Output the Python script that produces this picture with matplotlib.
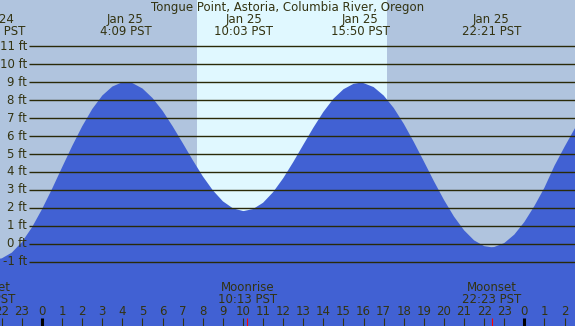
import matplotlib
matplotlib.use("Agg")
from matplotlib import pyplot as plt

# hours counted from midnight Jan 25 (PST), heights in feet
hours = [-2.5, -2.0, -1.5, -1.0, -0.5, 0.0, 0.5, 1.0, 1.5, 2.0,
         2.5, 3.0, 3.5, 4.0, 4.5, 5.0, 5.5, 6.0, 6.5, 7.0,
         7.5, 8.0, 8.5, 9.0, 9.5, 10.0, 10.5, 11.0, 11.5, 12.0,
         12.5, 13.0, 13.5, 14.0, 14.5, 15.0, 15.5, 16.0, 16.5, 17.0,
         17.5, 18.0, 18.5, 19.0, 19.5, 20.0, 20.5, 21.0, 21.5, 22.0,
         22.5, 23.0, 23.5, 24.0, 24.5, 25.0, 25.5, 26.0, 26.5, 27.0]
heights = [-0.82, -0.80, -0.48, 0.10, 0.92, 1.93, 3.06, 4.26, 5.44, 6.54,
           7.50, 8.25, 8.75, 8.99, 8.94, 8.64, 8.11, 7.40, 6.54, 5.61,
           4.66, 3.76, 2.98, 2.37, 1.98, 1.83, 1.94, 2.29, 2.88, 3.65,
           4.55, 5.51, 6.46, 7.34, 8.07, 8.60, 8.90, 8.94, 8.72, 8.25,
           7.56, 6.68, 5.67, 4.59, 3.49, 2.45, 1.52, 0.76, 0.20, -0.12,
           -0.17, 0.05, 0.52, 1.22, 2.11, 3.13, 4.35, 5.40, 6.40, 7.30]

# high / low tides
ext_hours = [-2.3, 4.15, 10.05, 15.83, 22.35]
ext_heights = [-0.85, 9.0, 1.83, 8.96, -0.18]
ext_days = ["Jan 24", "Jan 25", "Jan 25", "Jan 25", "Jan 25"]
ext_times = ["21:42 PST", "4:09 PST", "10:03 PST", "15:50 PST", "22:21 PST"]

# moon events
moon_hours = [-2.8, 10.22, 22.38]
moon_names = ["Moonset", "Moonrise", "Moonset"]
moon_times = ["21:12 PST", "10:13 PST", "22:23 PST"]

sunrise = 7.73
sunset = 17.16

grid_levels = list(range(-1, 12))

title = "Tongue Point, Astoria, Columbia River, Oregon"

night_col = "#b0c4de"
day_col = "#e0f8ff"
water_col = "#4161d3"
text_col = "#333311"
fs = 8.5

x0, x1 = -2.09, 26.52
y0, y1 = -4.56, 13.56

fig = plt.figure(figsize=(5.75, 3.26), dpi=100)
fig.patch.set_facecolor(night_col)
ax = fig.add_axes([0, 0, 1, 1])
ax.set_xlim(x0, x1)
ax.set_ylim(y0, y1)
ax.axis("off")

# daylight band
ax.axvspan(sunrise, sunset, color=day_col, zorder=1, lw=0)

# tide curve: half-hourly readings plus the extremes
pts = sorted(zip(hours + ext_hours, heights + ext_heights))
t = [p[0] for p in pts]
h = [p[1] for p in pts]
ax.fill_between(t, h, y0 - 1, color=water_col, lw=0, zorder=2)

# horizontal foot lines and labels
for lv in grid_levels:
    ax.hlines(lv, -0.65, x1 + 1, color="#2a2a08", lw=1.0, zorder=3)
    ax.text(-0.75, lv, "%d ft" % lv, ha="right", va="center",
            fontsize=fs, color=text_col, zorder=4)

trans = ax.get_xaxis_transform()

ax.text(0.5, 0.978, title, transform=ax.transAxes, ha="center",
        va="center", fontsize=fs, color=text_col)

for eh, d, tm in zip(ext_hours, ext_days, ext_times):
    ax.text(eh, 0.940, d, transform=trans, ha="center", va="center",
            fontsize=fs, color=text_col)
    ax.text(eh, 0.903, tm, transform=trans, ha="center", va="center",
            fontsize=fs, color=text_col)

for mh, nm, tm in zip(moon_hours, moon_names, moon_times):
    ax.text(mh, 0.118, nm, transform=trans, ha="center", va="center",
            fontsize=fs, color=text_col)
    ax.text(mh, 0.080, tm, transform=trans, ha="center", va="center",
            fontsize=fs, color=text_col)
    ax.vlines(mh, 0, 0.025, transform=trans, color="red", lw=0.8, zorder=5)

# hour ticks along the bottom
for hr in range(-2, 27):
    ax.text(hr, 0.043, str(hr % 24), transform=trans, ha="center",
            va="center", fontsize=fs, color=text_col)
    if hr % 24 == 0:
        ax.vlines(hr, 0, 0.025, transform=trans, color="black", lw=2.2, zorder=5)
    else:
        ax.vlines(hr, 0, 0.025, transform=trans, color=text_col, lw=0.8, zorder=5)

fig.savefig("out.png", dpi=100, facecolor=night_col)
